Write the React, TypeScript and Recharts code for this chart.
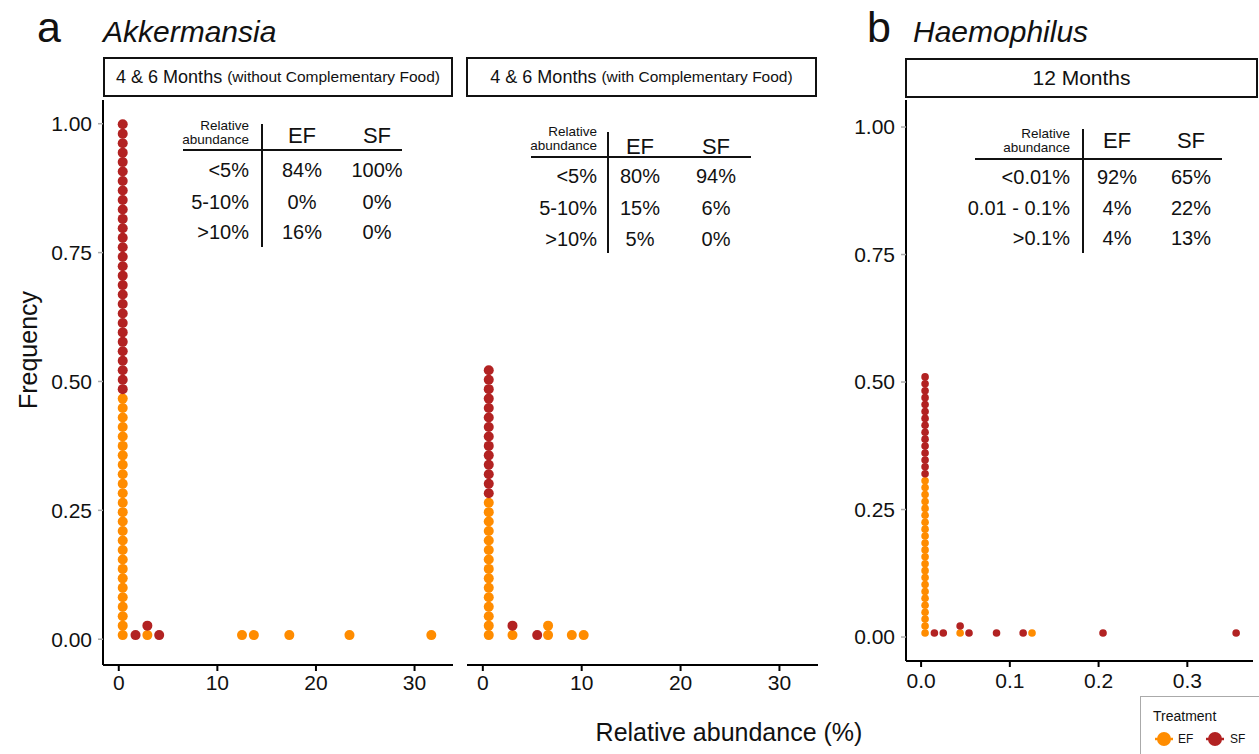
import React from 'react';
import { ScatterChart, Scatter, XAxis, YAxis } from 'recharts';

const FONT = '"Liberation Sans", Arial, Helvetica, sans-serif';
const EF_COLOR = '#FF8C00';
const SF_COLOR = '#B22222';

// a: 4 & 6 months without complementary food (bin centre, dots per group)
const noCfBins = [0.4, 1.7, 2.9, 4.1, 12.5, 13.7, 17.3, 23.4, 31.7];
const noCfEF = [26, 0, 1, 0, 1, 1, 1, 1, 1];
const noCfSF = [29, 1, 1, 1, 0, 0, 0, 0, 0];

// a: 4 & 6 months with complementary food
const cfBins = [0.6, 3.0, 5.5, 6.6, 9.0, 10.2];
const cfEF = [15, 1, 0, 2, 1, 1];
const cfSF = [14, 1, 1, 0, 0, 0];

// b: 12 months
const m12Bins = [0.0045, 0.015, 0.025, 0.044, 0.054, 0.085, 0.115, 0.125, 0.205, 0.355];
const m12EF = [23, 0, 0, 1, 0, 0, 0, 1, 0, 0];
const m12SF = [15, 1, 1, 1, 1, 1, 1, 0, 1, 1];

const yTicks = [0, 0.25, 0.5, 0.75, 1];
const pctTicks = [0, 10, 20, 30];
const smallTicks = [0, 0.1, 0.2, 0.3];

// summary tables
const tableARows = ['<5%', '5-10%', '>10%'];
const tableAEF = ['84%', '0%', '16%'];
const tableASF = ['100%', '0%', '0%'];
const tableA2Rows = ['<5%', '5-10%', '>10%'];
const tableA2EF = ['80%', '15%', '5%'];
const tableA2SF = ['94%', '6%', '0%'];
const tableBRows = ['<0.01%', '0.01 - 0.1%', '>0.1%'];
const tableBEF = ['92%', '4%', '4%'];
const tableBSF = ['65%', '22%', '13%'];

// stack dots of each bin: EF at the bottom, SF on top
function stackDots(bins: number[], ef: number[], sf: number[], base: number, step: number) {
  const efPts: { x: number; y: number }[] = [];
  const sfPts: { x: number; y: number }[] = [];
  bins.forEach((x, i) => {
    for (let k = 0; k < ef[i]; k++) efPts.push({ x, y: base + k * step });
    for (let k = 0; k < sf[i]; k++) sfPts.push({ x, y: base + (ef[i] + k) * step });
  });
  return { efPts, sfPts };
}

const dotShape = (r: number, fill: string) => (props: any) =>
  <circle cx={props.cx} cy={props.cy} r={r} fill={fill} />;

interface PanelProps {
  left: number;
  width: number;
  margin: { top: number; right: number; bottom: number; left: number };
  yWidth: number;
  showY: boolean;
  xHeight: number;
  xDomain: [number, number];
  xTicks: number[];
  xFmt: (v: number) => string;
  xTickMargin: number;
  yDomain: [number, number];
  dots: { efPts: { x: number; y: number }[]; sfPts: { x: number; y: number }[] };
  r: number;
}

function DotPanel(p: PanelProps) {
  return (
    <div style={{ position: 'absolute', left: p.left, top: 0 }}>
      <ScatterChart width={p.width} height={700} margin={p.margin} style={{ fontFamily: FONT }}>
        <XAxis
          type="number"
          dataKey="x"
          domain={p.xDomain}
          ticks={p.xTicks}
          tickFormatter={p.xFmt}
          height={p.xHeight}
          axisLine={{ stroke: '#000', strokeWidth: 2 }}
          tickLine={{ stroke: '#000', strokeWidth: 2 }}
          tickSize={6}
          tickMargin={p.xTickMargin}
          tick={{ fill: '#111', fontSize: 21, fontFamily: FONT }}
          interval={0}
        />
        <YAxis
          type="number"
          dataKey="y"
          domain={p.yDomain}
          ticks={yTicks}
          tickFormatter={(v: number) => v.toFixed(2)}
          width={p.yWidth}
          hide={!p.showY}
          axisLine={{ stroke: '#000', strokeWidth: 2 }}
          tickLine={{ stroke: '#aaa', strokeWidth: 1.5 }}
          tickSize={5}
          tickMargin={6}
          tick={{ fill: '#111', fontSize: 21, fontFamily: FONT }}
          interval={0}
        />
        <Scatter data={p.dots.efPts} shape={dotShape(p.r, EF_COLOR)} isAnimationActive={false} />
        <Scatter data={p.dots.sfPts} shape={dotShape(p.r, SF_COLOR)} isAnimationActive={false} />
      </ScatterChart>
    </div>
  );
}

interface TableProps {
  labelRight: number;
  vx: number;
  vTop: number;
  vBottom: number;
  hy: number;
  hLeft: number;
  hRight: number;
  relY: number;
  headY: number;
  efX: number;
  sfX: number;
  rowY: number[];
  rows: string[];
  ef: string[];
  sf: string[];
}

function SummaryTable(t: TableProps) {
  return (
    <g fontFamily={FONT} fill="#111">
      <text x={t.labelRight} y={t.relY} fontSize={13.5} textAnchor="end" dominantBaseline="central">Relative</text>
      <text x={t.labelRight} y={t.relY + 14.5} fontSize={13.5} textAnchor="end" dominantBaseline="central">abundance</text>
      <text x={t.efX} y={t.headY} fontSize={22} textAnchor="middle" dominantBaseline="central">EF</text>
      <text x={t.sfX} y={t.headY} fontSize={22} textAnchor="middle" dominantBaseline="central">SF</text>
      <line x1={t.vx} x2={t.vx} y1={t.vTop} y2={t.vBottom} stroke="#111" strokeWidth={2} />
      <line x1={t.hLeft} x2={t.hRight} y1={t.hy} y2={t.hy} stroke="#111" strokeWidth={2} />
      {t.rows.map((r, i) => (
        <g key={r}>
          <text x={t.labelRight} y={t.rowY[i]} fontSize={20} textAnchor="end" dominantBaseline="central">{r}</text>
          <text x={t.efX} y={t.rowY[i]} fontSize={20} textAnchor="middle" dominantBaseline="central">{t.ef[i]}</text>
          <text x={t.sfX} y={t.rowY[i]} fontSize={20} textAnchor="middle" dominantBaseline="central">{t.sf[i]}</text>
        </g>
      ))}
    </g>
  );
}

function Strip({ left, right, top, bottom, children }: any) {
  return (
    <div
      style={{
        position: 'absolute',
        left,
        top,
        width: right - left,
        height: bottom - top,
        boxSizing: 'border-box',
        border: '2px solid #111',
        display: 'flex',
        alignItems: 'center',
        justifyContent: 'center',
        fontFamily: FONT,
        color: '#111',
        whiteSpace: 'nowrap',
        background: '#fff',
      }}
    >
      {children}
    </div>
  );
}

export default function App() {
  const dotsA = stackDots(noCfBins, noCfEF, noCfSF, 0.008, 0.01835);
  const dotsA2 = stackDots(cfBins, cfEF, cfSF, 0.008, 0.01835);
  const dotsB = stackDots(m12Bins, m12EF, m12SF, 0.008, 0.01357);
  const fmtInt = (v: number) => String(v);
  const fmt1 = (v: number) => v.toFixed(1);

  return (
    <div style={{ position: 'absolute', left: 0, top: 0, width: 1259, height: 754, background: '#fff', overflow: 'hidden' }}>
      <DotPanel
        left={0}
        width={460}
        margin={{ top: 100, right: 7, bottom: 0, left: 0 }}
        yWidth={103}
        showY
        xHeight={35}
        xDomain={[-1.6, 33.9]}
        xTicks={pctTicks}
        xFmt={fmtInt}
        xTickMargin={4}
        yDomain={[-0.05, 1.046]}
        dots={dotsA}
        r={5}
      />
      <DotPanel
        left={460}
        width={365}
        margin={{ top: 100, right: 7, bottom: 0, left: 7 }}
        yWidth={0}
        showY={false}
        xHeight={35}
        xDomain={[-1.6, 33.9]}
        xTicks={pctTicks}
        xFmt={fmtInt}
        xTickMargin={4}
        yDomain={[-0.05, 1.046]}
        dots={dotsA2}
        r={5}
      />
      <DotPanel
        left={800}
        width={459}
        margin={{ top: 100, right: 6, bottom: 0, left: 0 }}
        yWidth={106}
        showY
        xHeight={39}
        xDomain={[-0.017, 0.374]}
        xTicks={smallTicks}
        xFmt={fmt1}
        xTickMargin={6}
        yDomain={[-0.047, 1.053]}
        dots={dotsB}
        r={3.8}
      />

      <Strip left={103} right={453} top={57} bottom={97}>
        <span style={{ fontSize: 18 }}>4 &amp; 6 Months</span>
        <span style={{ fontSize: 15.5, marginLeft: 5 }}>(without Complementary Food)</span>
      </Strip>
      <Strip left={466} right={817} top={57} bottom={97}>
        <span style={{ fontSize: 18 }}>4 &amp; 6 Months</span>
        <span style={{ fontSize: 15.5, marginLeft: 5 }}>(with Complementary Food)</span>
      </Strip>
      <Strip left={905} right={1258} top={58} bottom={98}>
        <span style={{ fontSize: 21 }}>12 Months</span>
      </Strip>

      <svg width={1259} height={754} style={{ position: 'absolute', left: 0, top: 0, pointerEvents: 'none' }}>
        <g fontFamily={FONT} fill="#111">
          <text x={37} y={42} fontSize={43}>a</text>
          <text x={103} y={42} fontSize={30} fontStyle="italic">Akkermansia</text>
          <text x={867} y={42} fontSize={43}>b</text>
          <text x={913} y={42} fontSize={30} fontStyle="italic">Haemophilus</text>
          <text x={729} y={732} fontSize={25} textAnchor="middle" dominantBaseline="central">Relative abundance (%)</text>
          <text
            x={28}
            y={350}
            fontSize={25}
            textAnchor="middle"
            dominantBaseline="central"
            transform="rotate(-90 28 350)"
          >
            Frequency
          </text>
        </g>
        <SummaryTable
          labelRight={249} vx={262} vTop={124} vBottom={247} hy={150} hLeft={183} hRight={402}
          relY={125} headY={135} efX={302} sfX={377} rowY={[170, 202, 232]}
          rows={tableARows} ef={tableAEF} sf={tableASF}
        />
        <SummaryTable
          labelRight={597} vx={608} vTop={132} vBottom={253} hy={157} hLeft={531} hRight={751}
          relY={131} headY={146} efX={640} sfX={716} rowY={[176, 208, 239]}
          rows={tableA2Rows} ef={tableA2EF} sf={tableA2SF}
        />
        <SummaryTable
          labelRight={1070} vx={1083} vTop={129} vBottom={253} hy={159} hLeft={975} hRight={1222}
          relY={133} headY={140} efX={1117} sfX={1191} rowY={[177, 208, 238]}
          rows={tableBRows} ef={tableBEF} sf={tableBSF}
        />
      </svg>

      <div
        style={{
          position: 'absolute',
          left: 1140,
          top: 696,
          width: 130,
          height: 70,
          boxSizing: 'border-box',
          border: '1.5px solid #aaa',
          background: '#fff',
        }}
      >
        <svg width={130} height={70}>
          <g fontFamily={FONT} fill="#111">
            <text x={12} y={19} fontSize={14} dominantBaseline="central">Treatment</text>
            <line x1={14} x2={32} y1={42} y2={42} stroke={EF_COLOR} strokeWidth={2.5} />
            <circle cx={23} cy={42} r={7} fill={EF_COLOR} />
            <text x={37} y={42} fontSize={12} dominantBaseline="central">EF</text>
            <line x1={65} x2={83} y1={42} y2={42} stroke={SF_COLOR} strokeWidth={2.5} />
            <circle cx={74} cy={42} r={7} fill={SF_COLOR} />
            <text x={89} y={42} fontSize={12} dominantBaseline="central">SF</text>
          </g>
        </svg>
      </div>
    </div>
  );
}
